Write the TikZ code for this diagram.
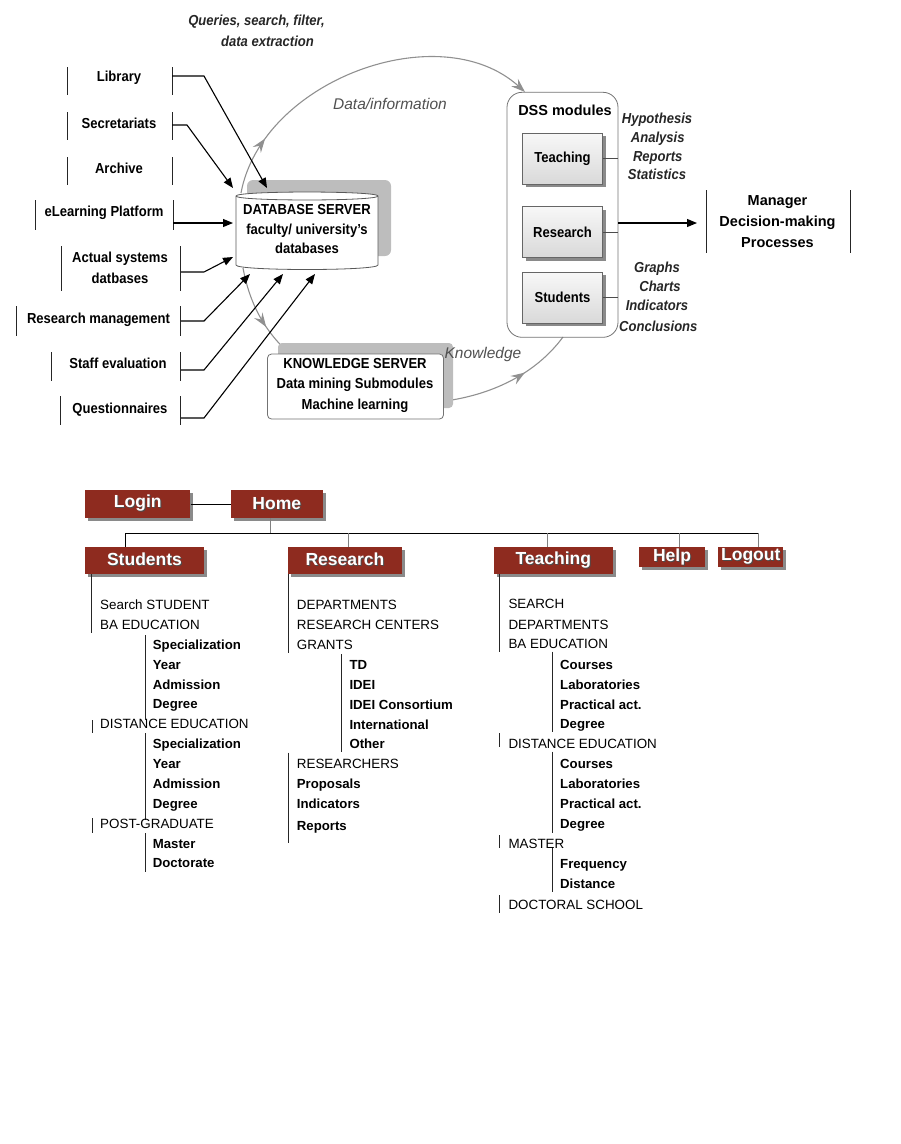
\documentclass[tikz,border=0pt]{standalone}
\usepackage{fontspec}
\setmainfont{Liberation Sans}
\newfontfamily\nar[FakeStretch=0.9]{Liberation Sans}
\usetikzlibrary{arrows.meta,decorations.markings,shadows}
\definecolor{menured}{HTML}{8E2B1F}
\definecolor{arcgray}{HTML}{909090}
\definecolor{shgray}{HTML}{BDBDBD}
\definecolor{btnsh}{HTML}{8A8A8A}
\definecolor{labgray}{HTML}{505050}
\newcommand\shtext[1]{\rlap{\kern1pt\raisebox{-1pt}{\textcolor{black!70}{#1}}}\textcolor{white}{#1}}
\newcommand\fs[2]{\fontsize{#1}{#2}\selectfont}
\begin{document}
\begin{tikzpicture}[x=1pt,y=-1pt,
  src2/.style={font=\nar\bfseries\fs{14.5}{21}, inner sep=0pt, align=center},
  src/.style={font=\nar\bfseries\fs{14.5}{21}, inner sep=0pt, text height=10.4pt, text depth=0pt},
  bar/.style={line width=0.9pt, black!85},
  blk/.style={line width=1.1pt, -{Triangle[length=10pt,width=8pt]}},
  garc/.style={color=arcgray, line width=1.1pt},
  gtip/.tip={Stealth[length=14pt,width=10pt,inset=5pt]},
  gmark/.style={postaction={decorate}, decoration={markings, mark=at position #1 with {\arrow{gtip}}}},
  ilab/.style={font=\nar\bfseries\itshape\fs{14.5}{18}, inner sep=0pt, text=black!85, text height=10.4pt, text depth=0pt},
  glab/.style={font=\itshape\fs{15.5}{18}, text=labgray, inner sep=0pt, text height=11.1pt, text depth=0pt},
  modbox/.style={draw=black!60, line width=0.8pt, top color=white!97!black, bottom color=black!15, minimum width=80pt, minimum height=51pt, inner sep=0pt, font=\nar\bfseries\fs{14.5}{18}, drop shadow={shadow xshift=3pt, shadow yshift=-3pt, fill=btnsh, opacity=1}},
  btn/.style={fill=menured, inner sep=0pt, font=\bfseries\fs{17.5}{20}, drop shadow={shadow xshift=3pt, shadow yshift=-3pt, fill=btnsh, opacity=1}},
  item/.style={anchor=west, inner sep=0pt, font=\fs{13.4}{16}, text height=9.6pt, text depth=0pt},
  subitem/.style={anchor=west, inner sep=0pt, font=\bfseries\fs{13.2}{16}, text height=9.45pt, text depth=0pt},
  tree/.style={line width=0.9pt, black!85},
]
\useasboundingbox (0,0) rectangle (901,1144);

% ---------- title ----------
\node[ilab] (q1) at (256.5,20) {Queries, search, filter,};
\node[ilab] (q2) at (267.5,41.5) {data extraction};

% ---------- grey flow arcs ----------
\draw[garc, gmark=0.17, -gtip] (241,193) .. controls (262,80) and (440,15) .. (525,92);
\draw[garc, gmark=0.62] (243,268) .. controls (250,305) and (265,332) .. (292,356);
\draw[garc, gmark=0.62] (445,401) .. controls (490,395) and (535,375) .. (563,337);
\node[glab] (dinfo) at (390,104) {Data/information};

% ---------- database server ----------
\fill[shgray, rounded corners=6pt] (247,180) rectangle (391,256);
\filldraw[fill=white, draw=black!65, line width=0.8pt] (236,196) -- (236,265) .. controls (236,271) and (378,271) .. (378,265) -- (378,196) .. controls (378,190.7) and (236,190.7) .. (236,196) -- cycle;
\draw[black!65, line width=0.8pt] (236,196) .. controls (236,201.3) and (378,201.3) .. (378,196);
\node[src2, font=\nar\bfseries\fs{14.5}{19.5}] (db) at (307,229.5) {DATABASE SERVER\\faculty/ university’s\\databases};

% ---------- knowledge server ----------
\fill[shgray, rounded corners=4pt] (278,343) rectangle (453,408);
\node[draw=black!55, line width=0.8pt, fill=white, rounded corners=4pt, minimum width=176pt, minimum height=65pt, inner sep=0pt] (ksbox) at (355.5,386.5) {};
\node[src2, font=\nar\bfseries\fs{14.5}{20.5}] (ks) at (355,385) {KNOWLEDGE SERVER\\Data mining Submodules\\Machine learning};
\node[glab] (know) at (483,353) {Knowledge};

% ---------- sources ----------
\node[src] (lib) at (119,76) {Library};
\draw[bar] (67,67)--(67,95) (172,67)--(172,95);
\coordinate (libout) at (172,76); \coordinate (libin) at (267,188);
\draw[blk] (libout) -- (204,76) -- (libin);

\node[src] (sec) at (119,123) {Secretariats};
\draw[bar] (67,112)--(67,140) (172,112)--(172,140);
\coordinate (secout) at (172,125); \coordinate (secin) at (233,188);
\draw[blk] (secout) -- (187,125) -- (secin);

\node[src] (arch) at (119,168) {Archive};
\draw[bar] (67,157)--(67,185) (172,157)--(172,185);

\node[src] (elp) at (104,211) {eLearning Platform};
\draw[bar] (35,200)--(35,230) (173,200)--(173,230);
\coordinate (elpout) at (173,223); \coordinate (elpin) at (233,223);
\draw[blk] (elpout) -- (elpin);

\node[src2] (act) at (120,267.5) {Actual systems\\datbases};
\draw[bar] (61,246)--(61,291) (180,246)--(180,291);
\coordinate (actout) at (181,272); \coordinate (actin) at (233,257);
\draw[blk] (actout) -- (204,272) -- (actin);

\node[src] (rm) at (98.5,318) {Research management};
\draw[bar] (16,306)--(16,336) (180,306)--(180,336);
\coordinate (rmout) at (181,321); \coordinate (rmin) at (250,274);
\draw[blk] (rmout) -- (204,321) -- (rmin);

\node[src] (se) at (118,363) {Staff evaluation};
\draw[bar] (51,352)--(51,381) (180,352)--(180,381);
\coordinate (seout) at (181,370); \coordinate (sein) at (283,274);
\draw[blk] (seout) -- (204,370) -- (sein);

\node[src] (qu) at (120,408) {Questionnaires};
\draw[bar] (60,396)--(60,425) (180,396)--(180,425);
\coordinate (quout) at (181,418); \coordinate (quin) at (315,274);
\draw[blk] (quout) -- (204,418) -- (quin);

% ---------- DSS modules ----------
\node[draw=black!55, line width=0.8pt, rounded corners=15pt, minimum width=111pt, minimum height=245pt, inner sep=0pt] (dss) at (562.5,214.8) {};
\node[inner sep=0pt, font=\bfseries\fs{14.5}{18}, text height=10.4pt, text depth=0pt] (dsst) at (565,110) {DSS modules};
\node[modbox] (teach) at (562.5,158.8) {Teaching};
\node[modbox] (resm) at (562.5,232) {Research};
\node[modbox] (stum) at (562.5,297.8) {Students};
\draw[black!70, line width=0.9pt] (teach.east) -- (teach.east -| dss.east);
\draw[black!70, line width=0.9pt] (resm.east) -- (resm.east -| dss.east);
\draw[black!70, line width=0.9pt] (stum.east) -- (stum.east -| dss.east);

\foreach \t/\x/\y [count=\i] in {Hypothesis/657/118.3, Analysis/657.7/137.3, Reports/657.7/156, Statistics/657/174.3, Graphs/657/267.7, Charts/660/286.7, Indicators/657/305.7, Conclusions/658.3/326.7}
  \node[ilab] (il\i) at (\x,\y) {\t};

% ---------- manager ----------
\coordinate (mgrin) at (697,223);
\draw[blk] (dss.east |- mgrin) -- (mgrin);
\node[inner sep=0pt, align=center, font=\bfseries\fs{14.5}{21}] (mgr) at (777.5,222) {Manager\\Decision-making\\Processes};
\draw[bar] (706,190)--(706,253) (850,190)--(850,253);

% ---------- menu ----------
\node[btn, minimum width=105pt, minimum height=28pt] (login) at (137.8,504) {\raisebox{1.5pt}{\shtext{Login}}};
\node[btn, minimum width=92pt, minimum height=28pt] (home) at (276.8,504) {\raisebox{1.5pt}{\shtext{Home}}};
\draw[line width=0.9pt] (login.east) -- (home.west);
\coordinate (busL) at (125,533.3);
\coordinate (busR) at (758.3,533.3);
\draw[gray, line width=0.9pt] (270,518) -- (270,533.3);
\draw[line width=0.9pt] (busL) -- (busR);

\node[btn, minimum width=119pt, minimum height=27pt] (students) at (144.5,560.8) {\raisebox{3pt}{\shtext{Students}}};
\node[btn, minimum width=113.5pt, minimum height=27pt] (research) at (345,560.8) {\raisebox{3pt}{\shtext{Research}}};
\node[btn, minimum width=118.7pt, minimum height=27pt] (teaching) at (553.3,560.8) {\raisebox{3pt}{\shtext{Teaching}}};
\node[btn, minimum width=66pt, minimum height=20pt] (help) at (672,557.3) {\raisebox{-1pt}{\shtext{Help}}};
\node[btn, minimum width=65pt, minimum height=20pt] (logout) at (750.8,557.3) {\raisebox{-1pt}{\shtext{Logout}}};
\draw[line width=0.9pt] (busL) -- (busL |- students.north);
\draw[gray, line width=0.9pt] (348.3,533.3) -- (348.3,547.3);
\draw[gray, line width=0.9pt] (547.3,533.3) -- (547.3,547.3);
\draw[gray, line width=0.9pt] (679.3,533.3) -- (679.3,547.3);
\draw[gray, line width=0.9pt] (busR) -- (758.3,547.3);

% ---------- Students list ----------
\draw[tree] (91,574.3) -- (91,633);
\draw[tree] (145,635) -- (145,720);
\draw[tree] (92,720) -- (92,733);
\draw[tree] (145,733) -- (145,820);
\draw[tree] (92,818) -- (92,833);
\draw[tree] (145,833) -- (145,872);
\foreach \t/\y [count=\i] in {Search STUDENT/604.3, BA EDUCATION/624.3, DISTANCE EDUCATION/724, POST-GRADUATE/823.3}
  \node[item] (sa\i) at (100,\y) {\t};
\foreach \t/\y [count=\i] in {Specialization/644.3, Year/664.3, Admission/684.3, Degree/704, Specialization/744, Year/764, Admission/784, Degree/803.5, Master/843.3, Doctorate/862.5}
  \node[subitem] (sb\i) at (152.7,\y) {\t};

% ---------- Research list ----------
\draw[tree] (288.3,574.3) -- (288.3,653);
\draw[tree] (341.7,654) -- (341.7,752);
\draw[tree] (288.3,752.7) -- (288.3,843);
\foreach \t/\y [count=\i] in {DEPARTMENTS/604.3, RESEARCH CENTERS/624.3, GRANTS/644.3, RESEARCHERS/763.3}
  \node[item] (ra\i) at (296.7,\y) {\t};
\foreach \t/\y [count=\i] in {TD/664.3, IDEI/684.3, IDEI Consortium/704.3, International/724.3, Other/743.7}
  \node[subitem] (rb\i) at (349.3,\y) {\t};
\foreach \t/\y [count=\i] in {Proposals/783.3, Indicators/803.3, Reports/825.7}
  \node[subitem] (rc\i) at (296.7,\y) {\t};

% ---------- Teaching list ----------
\draw[tree] (499.3,574.3) -- (499.3,651.7);
\draw[tree] (552.7,651.7) -- (552.7,731.7);
\draw[tree] (499.3,733) -- (499.3,746.7);
\draw[tree] (552.7,751.7) -- (552.7,833);
\draw[tree] (499.3,835) -- (499.3,848);
\draw[tree] (552.7,848) -- (552.7,891.7);
\draw[tree] (499.3,895) -- (499.3,913);
\foreach \t/\y [count=\i] in {SEARCH/604, DEPARTMENTS/624.3, BA EDUCATION/644, DISTANCE EDUCATION/743.3, MASTER/843.3, DOCTORAL SCHOOL/904.3}
  \node[item] (ta\i) at (508.3,\y) {\t};
\foreach \t/\y [count=\i] in {Courses/665, Laboratories/684.7, Practical act./704.3, Degree/724, Courses/764, Laboratories/783.7, Practical act./803.3, Degree/823.7, Frequency/863.3, Distance/883.3}
  \node[subitem] (tb\i) at (560,\y) {\t};
\end{tikzpicture}
\end{document}
